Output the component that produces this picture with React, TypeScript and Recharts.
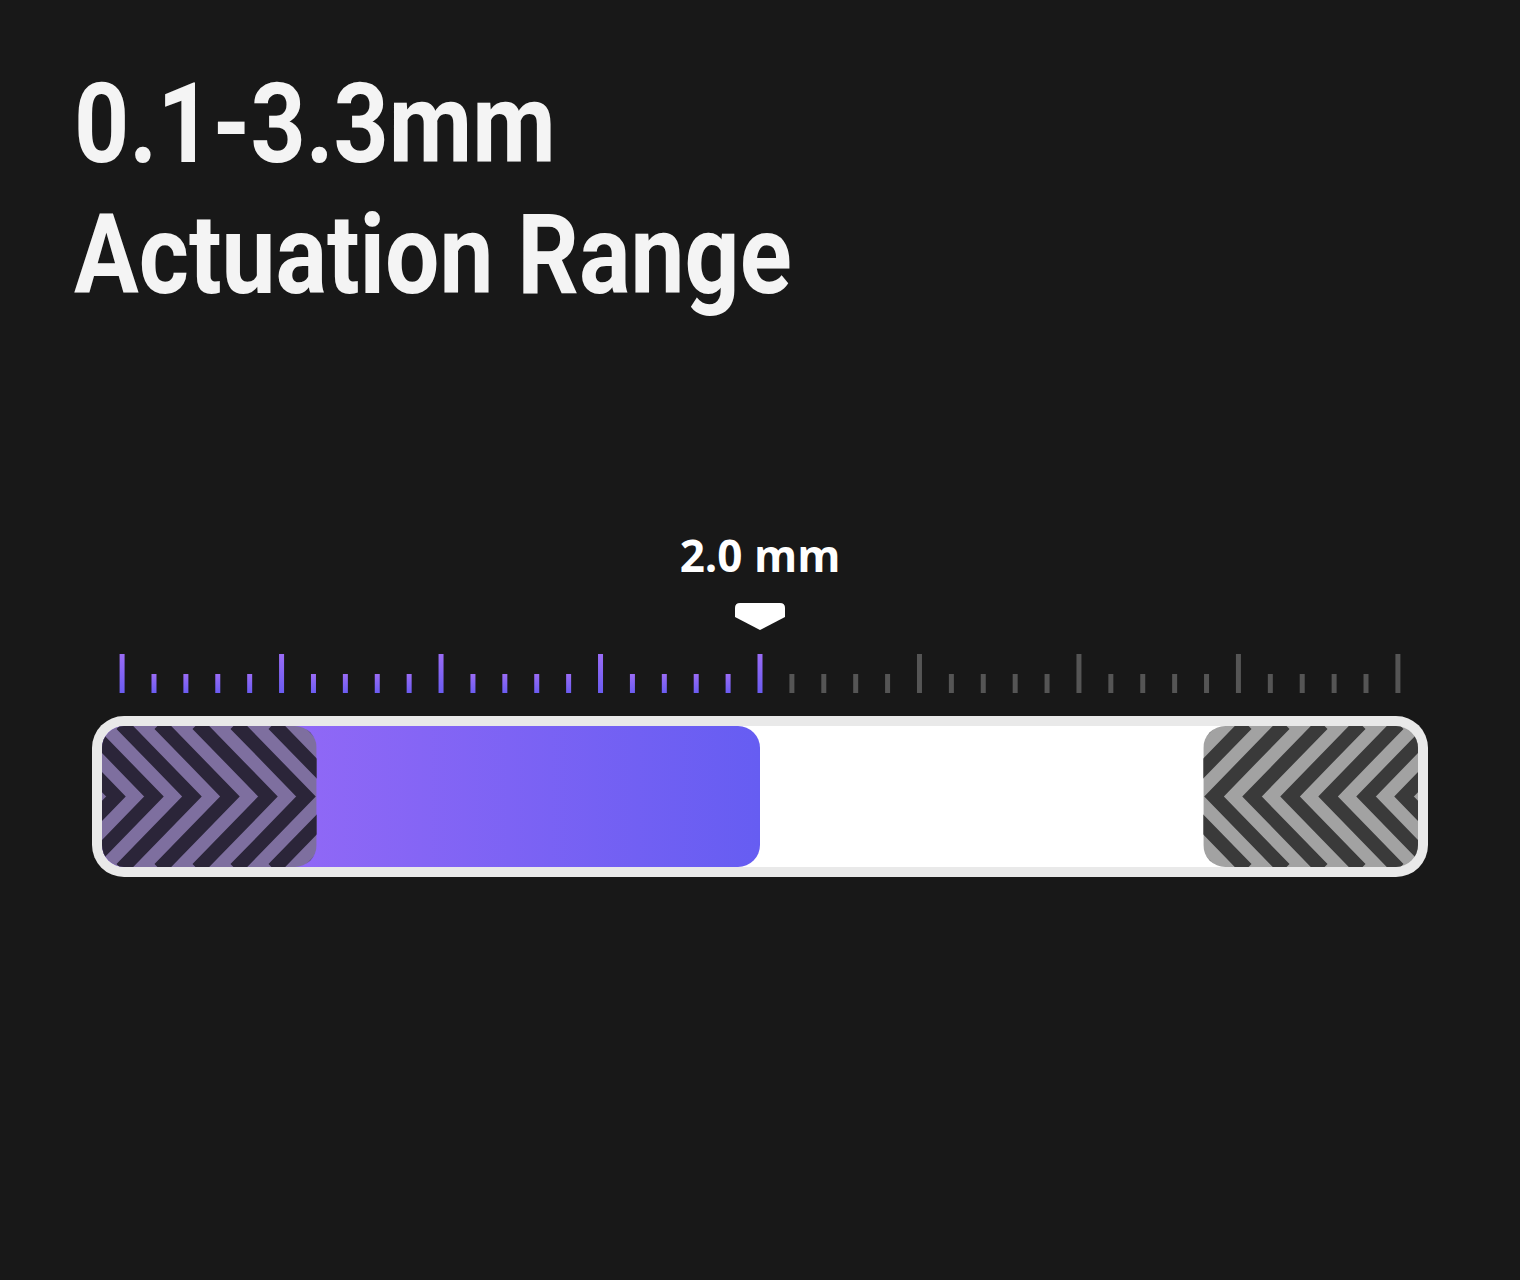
import { ComposedChart, XAxis, YAxis, ReferenceArea, ReferenceLine, Line } from "recharts";

// scale in mm
const scaleTicks = [
  0, 0.1, 0.2, 0.3, 0.4, 0.5, 0.6, 0.7, 0.8, 0.9, 1.0, 1.1, 1.2, 1.3, 1.4, 1.5, 1.6, 1.7, 1.8, 1.9, 2.0,
  2.1, 2.2, 2.3, 2.4, 2.5, 2.6, 2.7, 2.8, 2.9, 3.0, 3.1, 3.2, 3.3, 3.4, 3.5, 3.6, 3.7, 3.8, 3.9, 4.0,
];
const majorTicks = [0, 0.5, 1.0, 1.5, 2.0, 2.5, 3.0, 3.5, 4.0];
const trackRange = [-0.063, 4.063];
const currentValue = 2.0;
const deadZoneLow = [-0.063, 0.61];
const deadZoneHigh = [3.39, 4.063];
const currentLabel = "2.0 mm";
const trackData = [
  { x: -0.063, y: 0 },
  { x: 4.063, y: 1 },
];

const TOP = 725;
const BOTTOM = 867;

function TickMark(props: any) {
  const v = props.payload.value;
  const major = majorTicks.some((m) => Math.abs(m - v) < 1e-6);
  const active = v <= currentValue + 1e-6;
  const y1 = major ? TOP - 71 : TOP - 51;
  return (
    <rect
      x={props.x - 2.5}
      y={y1}
      width={5}
      height={TOP - 32 - y1}
      fill={active ? "url(#tickGrad)" : "#555"}
    />
  );
}

function Track(props: any) {
  const { x, y, width, height } = props;
  return (
    <g>
      <rect x={x - 10} y={y - 10} width={width + 20} height={height + 20} rx={32} fill="#e9e9e9" />
      <rect x={x} y={y} width={width} height={height} rx={22} fill="#fff" />
    </g>
  );
}

function Fill(props: any) {
  const { x, y, width, height } = props;
  return <rect x={x} y={y} width={width} height={height} rx={22} fill="url(#fillGrad)" />;
}

function Hatch(dir: 1 | -1, base: string, dark: string, id: string) {
  return (props: any) => {
    const { x, y, width, height } = props;
    const mid = y + height / 2;
    const half = height / 2;
    const lines = [];
    for (let i = -4; i < width / 38 + 5; i++) {
      const ax = dir === 1 ? x + 14 + i * 38 : x + width - 14 - i * 38;
      lines.push(
        <polyline
          key={i}
          points={`${ax - dir * half},${y - 2} ${ax},${mid} ${ax - dir * half},${y + height + 2}`}
          fill="none"
          stroke={dark}
          strokeWidth={14}
        />
      );
    }
    return (
      <g>
        <defs>
          <clipPath id={id}>
            <rect x={x} y={y} width={width} height={height} rx={22} />
          </clipPath>
        </defs>
        <g clipPath={`url(#${id})`}>
          <rect x={x} y={y} width={width} height={height} fill={base} />
          {lines}
        </g>
      </g>
    );
  };
}

function Pointer(props: any) {
  const vb = props.viewBox;
  const cx = vb.x;
  return (
    <g>
      <text
        x={cx}
        y={572}
        textAnchor="middle"
        fill="#fff"
        fontFamily="'Open Sans', 'Noto Sans', sans-serif"
        fontWeight={700}
        fontSize={44}
      >
        {currentLabel}
      </text>
      <path d={`M${cx - 25},608 q0,-5 5,-5 h40 q5,0 5,5 v9 l-25,13 l-25,-13 z`} fill="#fff" />
    </g>
  );
}

export default function App() {
  const titleStyle = {
    fontFamily: "Roboto, sans-serif",
    fontWeight: 700,
    fontSize: 112,
    color: "#f4f4f4",
    lineHeight: "131px",
    transform: "scaleX(0.86)",
    transformOrigin: "left top",
    whiteSpace: "nowrap" as const,
  };
  return (
    <div style={{ position: "absolute", left: 0, top: 0, width: 1520, height: 1280, background: "#181818", overflow: "hidden" }}>
      <div style={{ position: "absolute", left: 0, top: 0, width: 1520, height: 1280 }}>
        <ComposedChart
          width={1520}
          height={1280}
          data={trackData}
          margin={{ top: TOP, bottom: 1280 - BOTTOM, left: 102, right: 102 }}
        >
          <defs>
            <linearGradient id="tickGrad" x1="0" y1="0" x2="0" y2="1">
              <stop offset="0%" stopColor="#9a6cf6" />
              <stop offset="100%" stopColor="#6b5cf2" />
            </linearGradient>
            <linearGradient id="fillGrad" x1="0" y1="0" x2="1" y2="0">
              <stop offset="30%" stopColor="#9068f6" />
              <stop offset="100%" stopColor="#665df2" />
            </linearGradient>
          </defs>
          <XAxis
            type="number"
            dataKey="x"
            orientation="top"
            domain={trackRange}
            ticks={scaleTicks}
            tick={<TickMark />}
            axisLine={false}
            tickLine={false}
            height={1}
            interval={0}
            allowDataOverflow
          />
          <YAxis type="number" dataKey="y" domain={[0, 1]} hide />
          <ReferenceArea x1={trackRange[0]} x2={trackRange[1]} y1={0} y2={1} shape={<Track />} ifOverflow="visible" />
          <ReferenceArea x1={trackRange[0]} x2={currentValue} y1={0} y2={1} shape={<Fill />} ifOverflow="visible" />
          <ReferenceArea
            x1={deadZoneLow[0]}
            x2={deadZoneLow[1]}
            y1={0}
            y2={1}
            shape={Hatch(1, "#7e6f9f", "#2b2539", "clipLow")}
            ifOverflow="visible"
          />
          <ReferenceArea
            x1={deadZoneHigh[0]}
            x2={deadZoneHigh[1]}
            y1={0}
            y2={1}
            shape={Hatch(-1, "#a2a2a2", "#3a3a3a", "clipHigh")}
            ifOverflow="visible"
          />
          <ReferenceLine x={currentValue} stroke="none" label={<Pointer />} ifOverflow="visible" />
          <Line dataKey="y" stroke="none" dot={false} activeDot={false} isAnimationActive={false} />
        </ComposedChart>
      </div>
      <div style={{ position: "absolute", left: 74, top: 58, ...titleStyle }}>
        <div>0.1-3.3mm</div>
        <div>Actuation Range</div>
      </div>
    </div>
  );
}
